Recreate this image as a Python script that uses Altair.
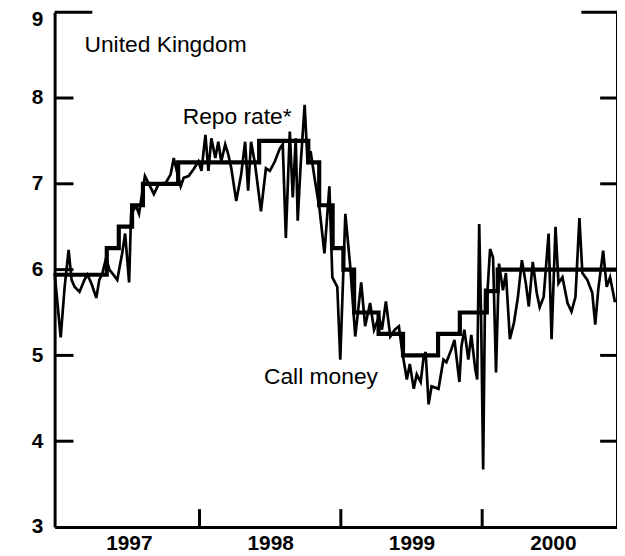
import altair as alt
import pandas as pd

# Repo rate (step function): change dates (decimal years) and levels
repo_t = [1996.975, 1997.344, 1997.429, 1997.523, 1997.600, 1997.849, 1998.422,
          1998.770, 1998.847, 1998.942, 1999.018, 1999.094, 1999.267, 1999.440,
          1999.688, 1999.842, 2000.033, 2000.110, 2000.954]
repo_v = [5.94, 6.25, 6.50, 6.75, 7.00, 7.25, 7.50,
          7.25, 6.75, 6.25, 6.00, 5.50, 5.25, 5.00,
          5.25, 5.50, 5.75, 6.00, 6.00]

# Call money rate
call_t = [
    1996.975, 1997.018, 1997.046, 1997.074, 1997.095, 1997.116, 1997.151, 1997.186, 1997.207, 1997.235,
    1997.270, 1997.291, 1997.312, 1997.340, 1997.362, 1997.382, 1997.418, 1997.453, 1997.474, 1997.502,
    1997.516, 1997.551, 1997.572, 1997.586, 1997.614, 1997.642, 1997.677, 1997.712, 1997.761, 1997.796,
    1997.818, 1997.839, 1997.867, 1997.888, 1997.923, 1997.958, 1997.993,
    1998.014, 1998.042, 1998.063, 1998.084, 1998.112, 1998.133, 1998.154, 1998.182, 1998.204, 1998.225,
    1998.260, 1998.295, 1998.323, 1998.344, 1998.365, 1998.393, 1998.435, 1998.470, 1998.498, 1998.533,
    1998.568, 1998.589, 1998.611, 1998.639, 1998.660, 1998.681, 1998.695, 1998.716, 1998.744, 1998.765,
    1998.786, 1998.814, 1998.849, 1998.884, 1998.919, 1998.940, 1998.975, 1998.996,
    1999.032, 1999.067, 1999.102, 1999.144, 1999.172, 1999.207, 1999.235, 1999.270, 1999.291, 1999.319,
    1999.350, 1999.382, 1999.411, 1999.432, 1999.467, 1999.488, 1999.516, 1999.537, 1999.565, 1999.586,
    1999.600, 1999.621, 1999.642, 1999.691, 1999.726, 1999.747, 1999.782, 1999.804, 1999.839, 1999.853,
    1999.874, 1999.902, 1999.923, 1999.951, 1999.965, 1999.979, 1999.993,
    2000.007, 2000.021, 2000.035, 2000.056, 2000.077, 2000.098, 2000.119, 2000.147, 2000.168, 2000.196,
    2000.225, 2000.253, 2000.281, 2000.309, 2000.330, 2000.358, 2000.386, 2000.407, 2000.435, 2000.470,
    2000.491, 2000.519, 2000.540, 2000.568, 2000.604, 2000.632, 2000.660, 2000.688, 2000.709, 2000.744,
    2000.779, 2000.800, 2000.821, 2000.856, 2000.881, 2000.905, 2000.940]
call_v = [
    5.96, 5.21, 5.80, 6.23, 5.88, 5.80, 5.74, 5.88, 5.94, 5.84,
    5.67, 5.88, 5.95, 6.14, 6.00, 5.96, 5.88, 6.19, 6.42, 5.85,
    6.65, 6.74, 6.65, 6.80, 7.09, 7.00, 6.88, 7.00, 7.01, 7.11,
    7.30, 7.15, 6.97, 7.07, 7.09, 7.17, 7.26,
    7.15, 7.57, 7.15, 7.53, 7.30, 7.49, 7.26, 7.46, 7.34, 7.18,
    6.80, 7.11, 7.49, 6.92, 7.49, 7.23, 6.68, 7.18, 7.15, 7.26,
    7.41, 7.46, 6.37, 7.61, 6.84, 7.53, 6.57, 7.23, 7.92, 7.23,
    7.38, 7.07, 6.71, 6.19, 6.97, 5.91, 5.80, 4.95,
    6.65, 6.03, 5.22, 5.85, 5.34, 5.61, 5.30, 5.45, 5.30, 5.63,
    5.22, 5.30, 5.34, 5.07, 4.72, 4.90, 4.61, 4.78, 4.69, 4.98,
    5.04, 4.43, 4.64, 4.61, 4.95, 4.92, 5.07, 5.18, 4.69, 5.10,
    5.30, 4.95, 5.24, 4.84, 4.72, 6.53, 5.40,
    3.67, 5.78, 5.68, 6.24, 6.14, 4.80, 6.07, 5.76, 5.96, 5.19,
    5.38, 5.68, 6.11, 5.84, 5.57, 6.09, 5.73, 5.56, 5.68, 6.42,
    5.19, 6.50, 5.84, 5.91, 5.61, 5.51, 5.68, 6.60, 5.96, 5.88,
    5.73, 5.36, 5.76, 6.22, 5.80, 5.91, 5.62]

y_ticks = [3, 4, 5, 6, 7, 8, 9]
inner_y_ticks = [4, 5, 6, 7, 8]
year_ticks = [1998, 1999, 2000]
year_label_pos = [1997.5, 1998.5, 1999.5, 2000.5]

ann_text = ["United Kingdom", "Repo rate*", "Call money"]
ann_t = [1997.186, 1997.881, 1998.456]
ann_v = [8.62, 7.78, 4.75]

FONT = "Liberation Sans"
W, H = 567, 519
XDOM = [1996.975, 2000.954]
YDOM = [3, 9]

repo_df = pd.DataFrame({"t": repo_t, "v": repo_v})
call_df = pd.DataFrame({"t": call_t, "v": call_v})
ann_df = pd.DataFrame({"label": ann_text, "t": ann_t, "v": ann_v})

xs = alt.Scale(domain=XDOM, nice=False, zero=False)
ys = alt.Scale(domain=YDOM, nice=False, zero=False)

x_axis = alt.Axis(values=year_label_pos, labelExpr="floor(datum.value)", ticks=False, tickSize=0,
                  grid=False, domain=True, domainColor="black", domainWidth=3, title=None,
                  labelFont=FONT, labelFontSize=21, labelFontWeight="bold", labelColor="black",
                  labelPadding=6, labelFlush=False)
y_axis = alt.Axis(values=y_ticks, format="d", ticks=False, tickSize=0, grid=False, domain=True,
                  domainColor="black", domainWidth=3, title=None, labelFont=FONT,
                  labelFontSize=21, labelFontWeight="bold", labelColor="black", labelPadding=12,
                  labelFlush=False,
                  labelOffset={"condition": {"test": "datum.value == 9", "value": 7}, "value": 0})

call = alt.Chart(call_df).mark_line(color="black", strokeWidth=2.7, strokeJoin="miter").encode(
    x=alt.X("t:Q", scale=xs, axis=x_axis),
    y=alt.Y("v:Q", scale=ys, axis=y_axis),
)
repo = alt.Chart(repo_df).mark_line(color="black", strokeWidth=4.2, interpolate="step-after").encode(
    x=alt.X("t:Q", scale=xs),
    y=alt.Y("v:Q", scale=ys),
)

ann = alt.Chart(ann_df).mark_text(align="left", baseline="middle", font=FONT, fontSize=23,
                                  color="black").encode(
    x=alt.X("t:Q", scale=xs), y=alt.Y("v:Q", scale=ys), text="label:N")

inner_df = pd.DataFrame({"v": inner_y_ticks})
top_df = pd.DataFrame({"v": [9]})
yr_df = pd.DataFrame({"yr": year_ticks})

left_ticks = alt.Chart(inner_df).mark_rule(color="black", strokeWidth=3).encode(
    y=alt.Y("v:Q", scale=ys), x=alt.value(0), x2=alt.value(19))
left_top = alt.Chart(top_df).mark_rule(color="black", strokeWidth=3).encode(
    y=alt.Y("v:Q", scale=ys), x=alt.value(0), x2=alt.value(38))
right_ticks = alt.Chart(inner_df).mark_rule(color="black", strokeWidth=3).encode(
    y=alt.Y("v:Q", scale=ys), x=alt.value(W), x2=alt.value(W - 17))
right_top = alt.Chart(top_df).mark_rule(color="black", strokeWidth=3).encode(
    y=alt.Y("v:Q", scale=ys), x=alt.value(W), x2=alt.value(W - 36))
right_line = alt.Chart(top_df).mark_rule(color="black", strokeWidth=2).encode(
    x=alt.value(W), y=alt.value(0), y2=alt.value(H))
x_ticks = alt.Chart(yr_df).mark_rule(color="black", strokeWidth=3).encode(
    x=alt.X("yr:Q", scale=xs), y=alt.value(H), y2=alt.value(H - 18))

chart = alt.layer(call, repo, ann, left_ticks, left_top, right_ticks, right_top, right_line,
                  x_ticks).properties(
    width=W, height=H,
    autosize=alt.AutoSizeParams(type="none"),
    padding={"left": 47, "top": 2, "right": 0, "bottom": 27},
    background="white",
).configure_view(stroke=None)

chart.save("out.html", embed_options={"renderer": "svg", "actions": False})
